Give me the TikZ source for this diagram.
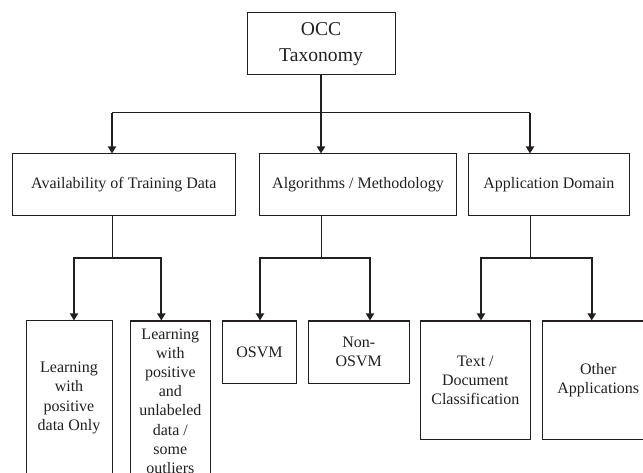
\documentclass[tikz,border=0pt]{standalone}
\usepackage{fontspec}
\setmainfont{Liberation Serif}
\usetikzlibrary{arrows.meta}
\definecolor{ink}{RGB}{35,31,32}
\begin{document}
\begin{tikzpicture}[x=1pt,y=1pt,
  box/.style={draw=ink,line width=1pt,rectangle,inner sep=0pt,align=center,text=ink,
    font=\fontsize{16}{19.2}\selectfont},
  stem/.style={draw=ink,line width=1pt},
  arr/.style={draw=ink,line width=2pt,-{Triangle[length=7pt,width=8pt]}},
  arr2/.style={draw=ink,line width=2pt,{Triangle[length=7pt,width=8pt]}-{Triangle[length=7pt,width=8pt]}}]
\useasboundingbox (0,0) rectangle (643,-473);
\clip (0,0) rectangle (643,-473);
% nodes
\node[box,minimum width=148pt,minimum height=62pt,font=\fontsize{19.6}{25.7}\selectfont] (occ) at (321,-44) {OCC\\Taxonomy};
\node[box,minimum width=222.3pt,minimum height=62pt] (avail) at (123.85,-185) {Availability of Training Data};
\node[box,minimum width=197.4pt,minimum height=62pt] (algo) at (358,-185) {Algorithms / Methodology};
\node[box,minimum width=160.3pt,minimum height=62pt] (appl) at (548.85,-185) {Application Domain};
\node[box,minimum width=86pt,minimum height=154pt] (l1) at (69,-398) {Learning\\with\\positive\\data Only};
\node[box,minimum width=80.7pt,minimum height=160pt] (l2) at (170.35,-401) {Learning\\with\\positive\\and\\unlabeled\\data /\\some\\outliers};
\node[box,minimum width=74.4pt,minimum height=62pt] (osvm) at (259.5,-352) {OSVM};
\node[box,minimum width=101pt,minimum height=62pt] (nosvm) at (358.8,-352) {Non-\\OSVM};
\node[box,minimum width=110.7pt,minimum height=118.3pt] (txt) at (475.35,-380.15) {Text /\\Document\\Classification};
\node[box,minimum width=112pt,minimum height=118.3pt] (oth) at (598.3,-380.15) {Other\\Applications};
% level 1 connectors
\coordinate (jL) at (112,-113);
\coordinate (jM) at (321,-113);
\coordinate (jR) at (530,-113);
\draw[stem] (jL) -- (jR);
\draw[arr] (occ.south) -- (occ.south |- algo.north);
\draw[arr] (jL) -- (jL |- avail.north);
\draw[arr] (jR) -- (jR |- appl.north);
% level 2 connectors
\coordinate (aS) at (112,-258);
\coordinate (aL) at (74,-258);
\coordinate (aR) at (161.3,-258);
\draw[stem] (aS |- avail.south) -- (aS);
\draw[arr2] (aL |- l1.north) -- (aL) -- (aR) -- (aR |- l2.north);
\coordinate (gS) at (321,-258);
\coordinate (gL) at (260,-258);
\coordinate (gR) at (370,-258);
\draw[stem] (gS |- algo.south) -- (gS);
\draw[arr2] (gL |- osvm.north) -- (gL) -- (gR) -- (gR |- nosvm.north);
\coordinate (pS) at (530,-258);
\coordinate (pL) at (481,-258);
\coordinate (pR) at (591.7,-258);
\draw[stem] (pS |- appl.south) -- (pS);
\draw[arr2] (pL |- txt.north) -- (pL) -- (pR) -- (pR |- oth.north);
\end{tikzpicture}
\end{document}
